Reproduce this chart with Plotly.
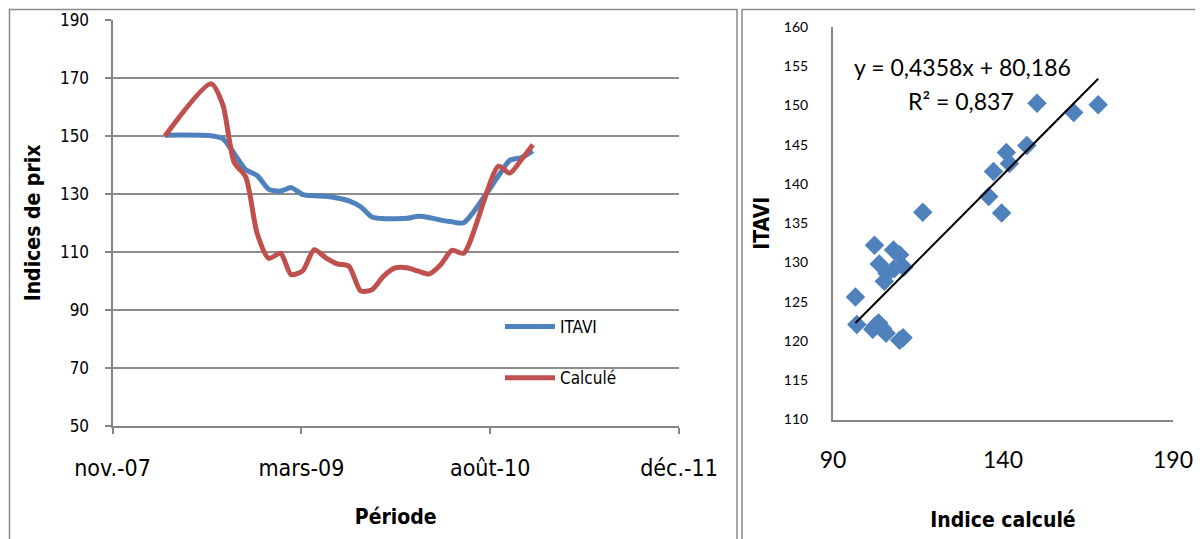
import plotly.graph_objects as go

# ---------------- data ----------------
dates = ["2008-04-01", "2008-08-01", "2008-09-01", "2008-10-01", "2008-11-01",
         "2008-12-01", "2009-01-01", "2009-02-01", "2009-03-01", "2009-04-01",
         "2009-05-01", "2009-06-01", "2009-07-01", "2009-08-01", "2009-09-01",
         "2009-10-01", "2009-11-01", "2009-12-01", "2010-01-01", "2010-02-01",
         "2010-03-01", "2010-04-01", "2010-05-01", "2010-06-01", "2010-09-01",
         "2010-10-01", "2010-11-01", "2010-12-01"]
itavi = [150.3, 150.1, 149.1, 144.0, 138.4, 136.4, 131.6, 131.0, 132.2, 129.8,
         129.4, 129.2, 128.6, 127.6, 125.6, 122.1, 121.5, 121.5, 121.6, 122.3,
         121.9, 121.0, 120.4, 120.1, 136.3, 141.6, 142.6, 144.9]
calcule = [150.0, 168.0, 160.8, 141.0, 135.8, 116.4, 107.8, 109.6, 102.2, 103.6,
           110.8, 108.0, 105.9, 105.1, 96.6, 97.0, 101.7, 104.5, 104.6, 103.4,
           102.4, 105.6, 110.6, 109.6, 139.6, 137.2, 141.9, 147.0]

series_names = ["ITAVI", "Calculé"]
x_tick_dates = ["2007-11-14", "2009-03-28", "2010-08-10", "2011-12-23"]
x_tick_labels = ["nov.-07", "mars-09", "août-10", "déc.-11"]
y_ticks_left = [50, 70, 90, 110, 130, 150, 170, 190]
x_ticks_right = [90, 140, 190]
y_ticks_right = [110, 115, 120, 125, 130, 135, 140, 145, 150, 155, 160]
trend_slope = 0.4358
trend_intercept = 80.186
trend_eq = "y = 0,4358x + 80,186"
trend_r2 = "R² = 0,837"

# ---------------- styles ----------------
BLUE = "#4F81BD"
RED = "#C0504D"
GRID = "#8C8C8C"
AX = "#868686"
NARROW = "Liberation Sans Narrow, Arial Narrow, DejaVu Sans Condensed, Liberation Sans, sans-serif"
CAL = "Lato, Carlito, Calibri, Liberation Sans, sans-serif"
W, H = 1203, 539
OFF = 8  # page body margin

def px(x):
    return (x - OFF) / W

def py(y):
    return 1 - (y - OFF) / H

fig = go.Figure()

fig.add_trace(go.Scatter(x=dates, y=itavi, name=series_names[0], mode="lines",
                         line=dict(color=BLUE, width=5, shape="spline", smoothing=0.7),
                         xaxis="x", yaxis="y", legendgroup="a"))
fig.add_trace(go.Scatter(x=dates, y=calcule, name=series_names[1], mode="lines",
                         line=dict(color=RED, width=5, shape="spline", smoothing=0.7),
                         xaxis="x", yaxis="y", legendgroup="b"))

fig.add_trace(go.Scatter(x=calcule, y=itavi, mode="markers", showlegend=False,
                         marker=dict(symbol="diamond", size=15, color=BLUE),
                         xaxis="x2", yaxis="y2"))
tx = [min(calcule), max(calcule)]
ty = [trend_slope * v + trend_intercept for v in tx]
fig.add_trace(go.Scatter(x=tx, y=ty, mode="lines", showlegend=False,
                         line=dict(color="black", width=2),
                         xaxis="x2", yaxis="y2"))

fig.update_layout(
    width=W, height=H,
    margin=dict(l=0, r=0, t=0, b=0, autoexpand=False),
    paper_bgcolor="white", plot_bgcolor="white",
    showlegend=True,
    legend=dict(x=px(500), y=py(309), xanchor="left", yanchor="top",
                bgcolor="rgba(0,0,0,0)", tracegroupgap=26, itemwidth=50,
                font=dict(family=NARROW, size=17, color="black")),
    xaxis=dict(domain=[px(112.5), px(679)], type="date", automargin=False,
               range=[x_tick_dates[0], x_tick_dates[-1]],
               tickmode="array", tickvals=x_tick_dates, ticktext=x_tick_labels,
               showgrid=False, showline=True, linecolor=AX, linewidth=2,
               ticks="outside", ticklen=6, tickcolor=AX, tickwidth=2,
               ticklabelstandoff=14,
               tickfont=dict(family=NARROW, size=23, color="black"),
               title=dict(text="<b>Période</b>", standoff=30,
                          font=dict(family=NARROW, size=21, color="black")),
               anchor="y"),
    yaxis=dict(domain=[py(426), py(20)], range=[50, 190], automargin=False,
               tickmode="array", tickvals=y_ticks_left,
               showgrid=True, gridcolor=GRID, gridwidth=2,
               showline=True, linecolor=AX, linewidth=2,
               ticks="outside", ticklen=6, tickcolor=AX, tickwidth=2,
               ticklabelstandoff=12, zeroline=False,
               tickfont=dict(family=NARROW, size=17, color="black"),
               title=dict(text="<b>Indices de prix</b>", standoff=14,
                          font=dict(family=NARROW, size=21, color="black")),
               anchor="x"),
    xaxis2=dict(domain=[px(833), px(1173)], range=[90, 190], automargin=False,
                tickmode="array", tickvals=x_ticks_right,
                showgrid=False, showline=True, linecolor=AX, linewidth=2,
                ticks="", ticklabelstandoff=19, zeroline=False,
                tickfont=dict(family=CAL, size=23, color="black"),
                title=dict(text="<b>Indice calculé</b>", standoff=40,
                           font=dict(family=NARROW, size=21, color="black")),
                anchor="y2"),
    yaxis2=dict(domain=[py(419.5), py(27)], range=[110, 160], automargin=False,
                tickmode="array", tickvals=y_ticks_right,
                showgrid=False, showline=True, linecolor=AX, linewidth=2,
                ticks="", ticklabelstandoff=20, zeroline=False,
                tickfont=dict(family=CAL, size=14, color="black"),
                title=dict(text="<b>ITAVI</b>", standoff=8,
                           font=dict(family=NARROW, size=21, color="black")),
                anchor="x2"),
    annotations=[
        dict(text=trend_eq, xref="paper", yref="paper",
             x=px(962), y=py(67), xanchor="center", yanchor="middle",
             showarrow=False, font=dict(family=CAL, size=23, color="black")),
        dict(text=trend_r2, xref="paper", yref="paper",
             x=px(961), y=py(101), xanchor="center", yanchor="middle",
             showarrow=False, font=dict(family=CAL, size=23, color="black")),
    ],
    shapes=[
        dict(type="rect", xref="paper", yref="paper", x0=px(9.5), x1=px(737),
             y0=-0.05, y1=py(9.5), line=dict(color="#8A8A8A", width=1.5)),
        dict(type="rect", xref="paper", yref="paper", x0=px(742), x1=1.02,
             y0=-0.05, y1=py(9.5), line=dict(color="#8A8A8A", width=1.5)),
    ],
)

fig.write_html("out.html")
